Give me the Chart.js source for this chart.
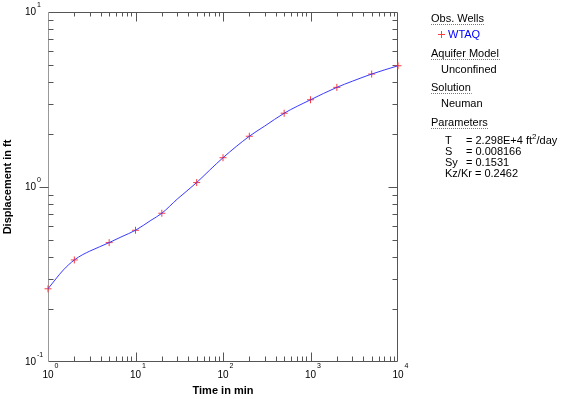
<!DOCTYPE html>
<html>
<head>
<meta charset="utf-8">
<script src="https://cdn.jsdelivr.net/npm/chart.js@4/dist/chart.umd.min.js"></script>
<style>
html,body{margin:0;padding:0;background:#fff;}
#wrap{width:566px;height:399px;position:relative;}
</style>
</head>
<body>
<div id="wrap"><canvas id="c" width="566" height="399"></canvas></div>
<script>
// ---- data ----
const obsTime = [1, 2, 5, 10, 20, 50, 100, 200, 500, 1000, 2000, 5000, 10000];
const obsDisp = [0.262, 0.383, 0.481, 0.566, 0.708, 1.06, 1.47, 1.95, 2.64, 3.15, 3.71, 4.42, 4.93];
const curveTime = [1, 1.2, 1.5, 2, 2.5, 3, 5, 7, 10, 15, 20, 30, 50, 70, 100, 200, 300, 500, 1000, 2000, 3000, 5000, 10000];
const curveDisp = [0.262, 0.294, 0.336, 0.383, 0.411, 0.430, 0.481, 0.521, 0.566, 0.645, 0.708, 0.853, 1.06, 1.245, 1.47, 1.95, 2.23, 2.64, 3.15, 3.71, 4.02, 4.42, 4.93];
const xTickExps = [0, 1, 2, 3, 4];
const yTickExps = [-1, 0, 1];
const xTitle = 'Time in min';
const yTitle = 'Displacement in ft';
const wellName = 'WTAQ';
const paramNames = ['T', 'S', 'Sy'];
const paramValues = ['2.298E+4', '0.008166', '0.1531'];
const kzkr = 'Kz/Kr = 0.2462';

const FONT = 'Arial, "Liberation Sans", Helvetica, sans-serif';

const curveData = curveTime.map((t, i) => ({x: t, y: curveDisp[i]}));
const obsData = obsTime.map((t, i) => ({x: t, y: obsDisp[i]}));

function crisp(v){ return Math.round(v) + 0.5; }

const framePlugin = {
  id: 'frame',
  beforeDraw(chart){
    const ctx = chart.ctx;
    ctx.save();
    ctx.fillStyle = '#fff';
    ctx.fillRect(0, 0, chart.width, chart.height);
    ctx.restore();
  },
  beforeDatasetsDraw(chart){
    const ctx = chart.ctx, a = chart.chartArea;
    const xs = chart.scales.x, ys = chart.scales.y;
    const L = crisp(a.left), R = crisp(a.right) - 1, T = crisp(a.top), B = crisp(a.bottom) - 1;
    ctx.save();
    ctx.lineWidth = 1;
    ctx.strokeStyle = '#555';
    ctx.beginPath();
    ctx.moveTo(L, T); ctx.lineTo(R, T); ctx.lineTo(R, B); ctx.lineTo(L, B);
    ctx.stroke();
    ctx.strokeStyle = '#999';
    ctx.beginPath(); ctx.moveTo(L, T); ctx.lineTo(L, B); ctx.stroke();

    ctx.strokeStyle = '#555';
    ctx.beginPath();
    for (let e = xTickExps[0]; e < xTickExps[xTickExps.length-1]; e++) {
      for (let d = 1; d <= 9; d++) {
        const v = d * Math.pow(10, e);
        if (d === 1 && e === xTickExps[0]) continue;
        const px = crisp(xs.getPixelForValue(v));
        const major = d === 1;
        ctx.moveTo(px, B); ctx.lineTo(px, B - (major ? 9 : 5));
        ctx.moveTo(px, T); ctx.lineTo(px, T + (major ? 9 : 4));
      }
    }
    ctx.stroke();
    ctx.beginPath();
    for (let e = yTickExps[0]; e < yTickExps[yTickExps.length-1]; e++) {
      for (let d = 1; d <= 9; d++) {
        const v = d * Math.pow(10, e);
        if (d === 1 && e === yTickExps[0]) continue;
        const py = crisp(ys.getPixelForValue(v));
        const major = d === 1;
        ctx.moveTo(R, py); ctx.lineTo(R - (major ? 9 : 5), py);
        if (major) { ctx.moveTo(L, py); ctx.lineTo(L - 9, py); }
        else { ctx.moveTo(L, py); ctx.lineTo(L + 5, py); }
      }
    }
    ctx.stroke();
    ctx.restore();
  },
  afterDraw(chart){
    const ctx = chart.ctx, a = chart.chartArea;
    const xs = chart.scales.x, ys = chart.scales.y;
    ctx.save();
    ctx.fillStyle = '#000';
    xTickExps.forEach(e => {
      const px = xs.getPixelForValue(Math.pow(10, e));
      ctx.font = '10px ' + FONT;
      ctx.textAlign = 'center'; ctx.textBaseline = 'middle';
      ctx.fillText('10', px, 375);
      const w = ctx.measureText('10').width;
      ctx.font = '7px ' + FONT;
      ctx.textAlign = 'left';
      ctx.fillText(String(e), px + w/2 + 1, 366);
    });
    yTickExps.forEach(e => {
      const py = ys.getPixelForValue(Math.pow(10, e));
      ctx.font = '10px ' + FONT;
      ctx.textAlign = 'right'; ctx.textBaseline = 'middle';
      ctx.fillText('10', 36, py);
      ctx.font = '7px ' + FONT;
      ctx.textAlign = 'left';
      ctx.fillText(String(e), 37, py - 7);
    });
    ctx.font = 'bold 11px ' + FONT;
    ctx.textAlign = 'center'; ctx.textBaseline = 'middle';
    ctx.fillText(xTitle, (a.left + a.right) / 2, 391);
    ctx.save();
    ctx.translate(8, (a.top + a.bottom) / 2);
    ctx.rotate(-Math.PI / 2);
    ctx.fillText(yTitle, 0, 0);
    ctx.restore();

    ctx.font = '11px ' + FONT;
    ctx.textAlign = 'left'; ctx.textBaseline = 'middle';
    function heading(txt, x, y){
      ctx.fillStyle = '#000';
      ctx.fillText(txt, x, y);
      const w = ctx.measureText(txt).width;
      ctx.save();
      ctx.strokeStyle = '#777'; ctx.lineWidth = 1; ctx.setLineDash([1, 1]);
      ctx.beginPath(); ctx.moveTo(x, Math.round(y + 5) + 0.5); ctx.lineTo(x + w + 1, Math.round(y + 5) + 0.5); ctx.stroke();
      ctx.restore();
    }
    heading('Obs. Wells', 431, 19);
    ctx.save();
    ctx.strokeStyle = '#ff3c3c'; ctx.lineWidth = 1;
    ctx.beginPath();
    ctx.moveTo(438, 34.5); ctx.lineTo(445, 34.5);
    ctx.moveTo(441.5, 31); ctx.lineTo(441.5, 38);
    ctx.stroke();
    ctx.restore();
    ctx.fillStyle = '#0000ff';
    ctx.fillText(wellName, 448, 35);
    heading('Aquifer Model', 431, 54);
    ctx.fillStyle = '#000';
    ctx.fillText('Unconfined', 441, 70);
    heading('Solution', 431, 88);
    ctx.fillStyle = '#000';
    ctx.fillText('Neuman', 441, 104);
    heading('Parameters', 431, 123);
    ctx.fillStyle = '#000';
    const rowY = [141, 152, 163];
    paramNames.forEach((n, i) => {
      ctx.font = '11px ' + FONT;
      ctx.fillText(n, 445, rowY[i]);
      let s = '= ' + paramValues[i];
      if (i === 0) s += ' ft';
      ctx.fillText(s, 466, rowY[i]);
      if (i === 0) {
        let x = 466 + ctx.measureText(s).width;
        ctx.font = '8px ' + FONT;
        ctx.fillText('2', x, rowY[i] - 4);
        x += ctx.measureText('2').width;
        ctx.font = '11px ' + FONT;
        ctx.fillText('/day', x, rowY[i]);
      }
    });
    ctx.font = '11px ' + FONT;
    ctx.fillText(kzkr, 445, 174);
    ctx.restore();
  }
};

new Chart(document.getElementById('c'), {
  type: 'scatter',
  data: {
    datasets: [
      {
        label: 'Neuman fit',
        data: curveData,
        showLine: true,
        borderColor: '#3a3aff',
        borderWidth: 1,
        pointRadius: 0,
        cubicInterpolationMode: 'monotone',
        order: 0
      },
      {
        label: wellName,
        data: obsData,
        pointStyle: 'cross',
        pointRadius: 3.5,
        borderColor: '#ff3c3c',
        backgroundColor: '#ff3c3c',
        borderWidth: 1,
        clip: false,
        order: 1
      }
    ]
  },
  options: {
    responsive: false,
    animation: false,
    devicePixelRatio: 1,
    layout: { padding: { left: 48, top: 12, right: 168, bottom: 37 } },
    plugins: { legend: { display: false }, tooltip: { enabled: false } },
    scales: {
      x: { type: 'logarithmic', min: 1, max: 10000, display: false },
      y: { type: 'logarithmic', min: 0.1, max: 10, display: false }
    }
  },
  plugins: [framePlugin]
});
</script>
</body>
</html>
